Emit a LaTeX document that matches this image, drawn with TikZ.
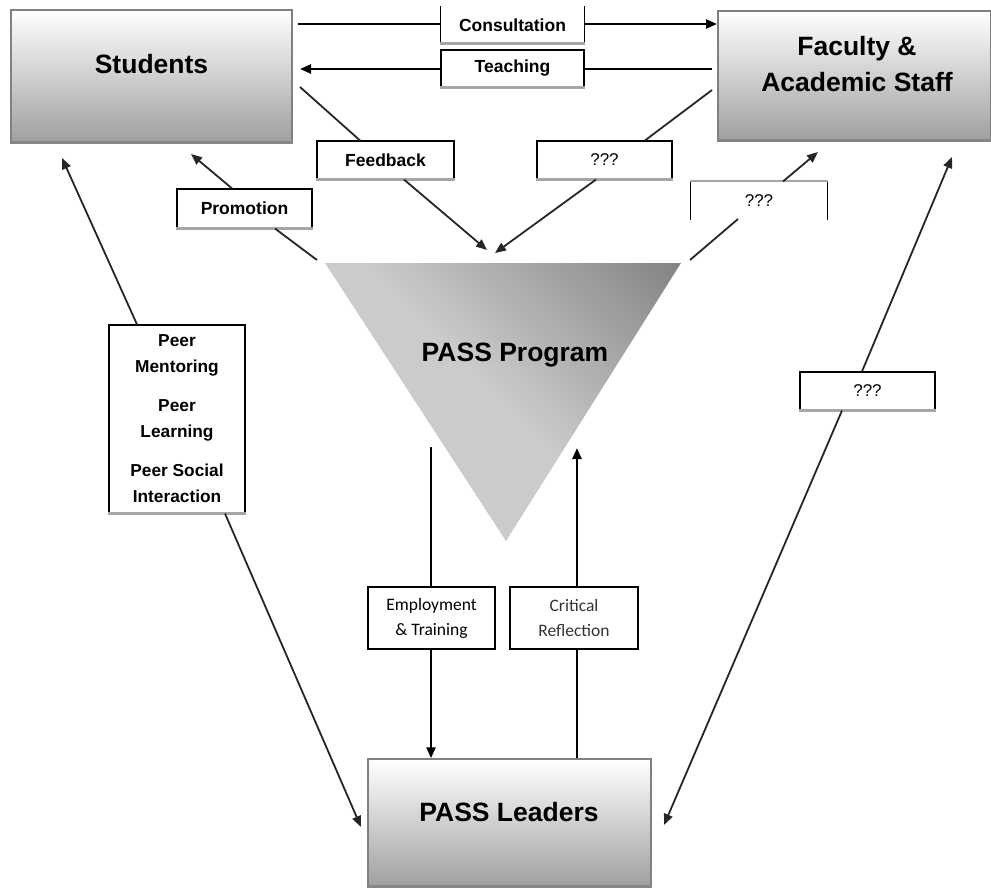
\documentclass[tikz,border=0pt]{standalone}
\usepackage{fontspec}
\setmainfont{Liberation Sans}
\newfontfamily\calib{Carlito}
\usetikzlibrary{arrows.meta}
\definecolor{tlight}{HTML}{CBCBCB}
\definecolor{tdark}{HTML}{666666}
\pgfdeclareverticalshading{trishade}{100bp}{color(0bp)=(tlight); color(50bp)=(tlight); color(100bp)=(tdark)}
\begin{document}
\begin{tikzpicture}[x=1pt,y=-1pt,
 mainbox/.style={draw=gray, line width=1.4pt, top color=white, bottom color=gray!75, inner sep=0pt},
 maintext/.style={font=\bfseries\fontsize{26.5}{36}\selectfont, align=center, inner sep=0pt},
 lbl/.style={draw=black, line width=1.1pt, fill=white, inner sep=0pt, font=\bfseries\fontsize{17.5}{20}\selectfont, align=center},
 qtext/.style={font=\fontsize{17}{20}\selectfont},
 conn/.style={draw=black!85, line width=1.8pt},
 solidline/.style={draw=black, line width=2.4pt},
 arrowend/.style={-{Triangle[length=11pt,width=9pt]}},
 shadowline/.style={draw=gray!70, line width=2.5pt},
 mainshadow/.style={draw=gray!95, line width=2.5pt}
]
\useasboundingbox (0,0) rectangle (991,888);
\clip (0,0) rectangle (991,888);

% main boxes
\node[mainbox, minimum width=281pt, minimum height=132pt] (students) at (151.5,76) {};
\node[maintext] (studentsT) at (151.5,64) {Students};
\node[mainbox, minimum width=273pt, minimum height=129pt] (faculty) at (854.5,75.5) {};
\node[maintext] (facultyT) at (857,64) {Faculty \&\\Academic Staff};
\node[mainbox, minimum width=283pt, minimum height=127pt] (leaders) at (509.5,822.5) {};
\node[maintext] (leadersT) at (509,812) {PASS Leaders};
\foreach \n in {students,faculty,leaders}
  \draw[mainshadow] (\n.south west) -- (\n.south east);

% triangle
\path[shading=trishade, shading angle=-45] (325,263) coordinate (tA) -- (681,263) coordinate (tB) -- (506,541) coordinate (tC) -- cycle;
\node[maintext] (prog) at (515,355) {PASS Program};

% label boxes
\node[lbl, draw=none, minimum width=143pt, minimum height=36pt] (cons) at (512.5,25) {Consultation};
\draw[black, line width=1.1pt] (cons.north west) -- (cons.south west) -- (cons.south east) -- (cons.north east);
\node[lbl, minimum width=143pt, minimum height=37pt] (teach) at (512.5,68.5) {Teaching};
\node[lbl, minimum width=137pt, minimum height=38pt] (fb) at (385.5,160) {Feedback};
\node[lbl, qtext, minimum width=135pt, minimum height=38pt] (q1) at (604.5,160) {???};
\node[lbl, qtext, draw=none, minimum width=136pt, minimum height=37pt] (q2) at (759,200.5) {???};
\draw[black, line width=1.1pt] (q2.south west) -- (q2.north west);
\draw[black, line width=1.1pt] (q2.north east) -- (q2.south east);
\draw[gray!70, line width=2pt] (q2.north west) -- (q2.north east);
\node[lbl, minimum width=135pt, minimum height=39pt] (pr) at (244.5,208.5) {Promotion};
\node[lbl, minimum width=136pt, minimum height=188pt, font=\bfseries\fontsize{17.3}{26}\selectfont] (peer) at (177,419)
  {Peer\\Mentoring\\[13pt]Peer\\Learning\\[13pt]Peer Social\\Interaction};
\node[lbl, qtext, minimum width=135pt, minimum height=38pt] (q3) at (867.5,391) {???};
\node[lbl, minimum width=127pt, minimum height=62pt, font=\calib\fontsize{17.5}{25}\selectfont] (emp) at (431.5,618) {Employment\\\& Training};
\node[lbl, minimum width=128pt, minimum height=62pt, font=\calib\fontsize{17.5}{25}\selectfont, text=black!80] (crit) at (574,618) {Critical\\Reflection};
\foreach \n in {cons,teach,fb,q1,pr,peer,q3}
  \draw[shadowline] (\n.south west) -- (\n.south east);

% consultation / teaching
\coordinate (consL) at (298,24);
\coordinate (consR) at (717,24);
\draw[solidline] (consL) -- (cons.west |- consL);
\draw[solidline, arrowend] (cons.east |- consL) -- (consR);
\coordinate (teachR) at (712,69);
\coordinate (teachL) at (300,69);
\draw[solidline] (teachR) -- (teach.east |- teachR);
\draw[solidline, arrowend] (teach.west |- teachR) -- (teachL);

% feedback
\coordinate (fbS) at (300,87);
\coordinate (fbE) at (487,250);
\draw[conn] (fbS) -- ([xshift=-25.5pt]fb.north);
\draw[conn, arrowend] ([xshift=18.5pt]fb.south) -- (fbE);
% promotion
\coordinate (prS) at (317,260);
\coordinate (prE) at (191,154);
\draw[conn] (prS) -- ([xshift=30.5pt]pr.south);
\draw[conn, arrowend] ([xshift=-12.5pt]pr.north) -- (prE);
% ??? 1
\coordinate (q1S) at (712,90);
\coordinate (q1E) at (495,253);
\draw[conn] (q1S) -- ([xshift=40.5pt]q1.north);
\draw[conn, arrowend] ([xshift=-8.5pt]q1.south) -- (q1E);
% ??? 2
\coordinate (q2S) at (690,260);
\coordinate (q2M) at (738,219);
\coordinate (q2E) at (818,152);
\draw[conn] (q2S) -- (q2M);
\draw[conn, arrowend] ([xshift=24pt]q2.north) -- (q2E);
% peer
\coordinate (peS) at (62,158);
\coordinate (peE) at (361,827);
\draw[conn, arrowend] ([xshift=-40pt]peer.north) -- (peS);
\draw[conn, arrowend] ([xshift=48pt]peer.south) -- (peE);
% ??? 3
\coordinate (q3N) at (952,157);
\coordinate (q3S) at (664,825);
\draw[conn, arrowend] ([xshift=-5.5pt]q3.north) -- (q3N);
\draw[conn, arrowend] ([xshift=-25.5pt]q3.south) -- (q3S);
% verticals
\coordinate (empTop) at (431,447);
\draw[solidline] (empTop) -- (empTop |- emp.north);
\draw[solidline, arrowend] (empTop |- emp.south) -- (empTop |- leaders.north);
\coordinate (critTop) at (577,448);
\draw[solidline] (critTop |- leaders.north) -- (critTop |- crit.south);
\draw[solidline, arrowend] (critTop |- crit.north) -- (critTop);
\end{tikzpicture}
\end{document}
